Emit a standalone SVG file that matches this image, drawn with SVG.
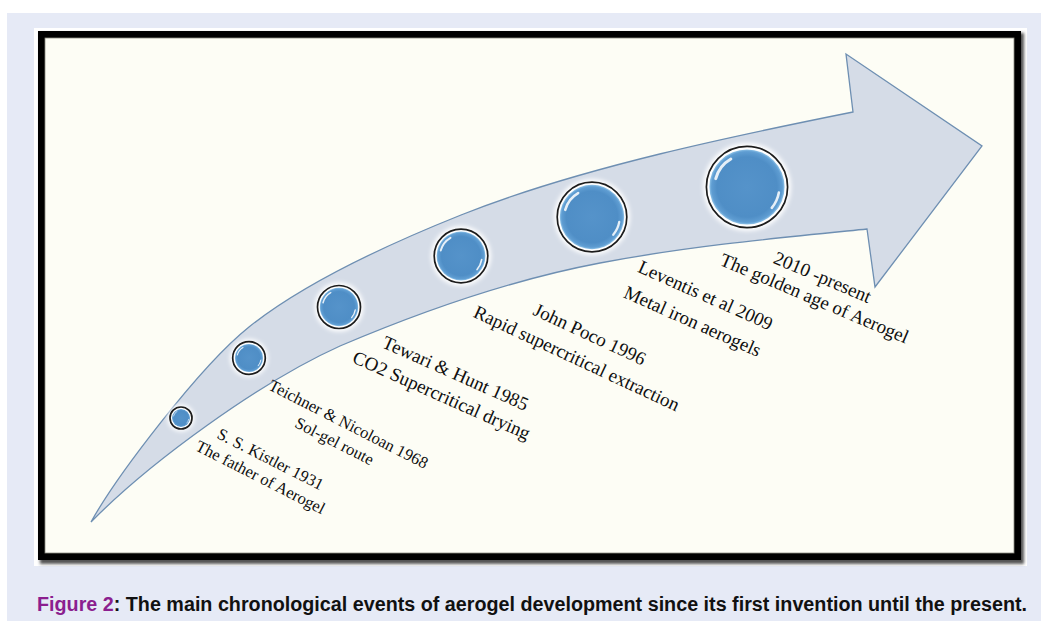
<svg xmlns="http://www.w3.org/2000/svg" xmlns:xlink="http://www.w3.org/1999/xlink" width="1041" height="627" viewBox="0 0 1041 627">
  <style>
    .lbl { font-family: "Liberation Serif", "Times New Roman", serif; fill: #0f0f0f; text-anchor: middle; }
    .sm { font-size: 16.5px; }
    .lg { font-size: 19px; }
    .ring { fill: #ffffff; stroke: #1c1c1c; stroke-width: 1.7; }
    .core { fill: url(#blue); }
    .glow { fill: #ffffff; filter: url(#blur); }
    .cap { font-family: "Liberation Sans", Arial, sans-serif; font-weight: bold; font-size: 19.5px; fill: #111111; }
  </style>
  <defs>
    <radialGradient id="blue" cx="0.5" cy="0.5" r="0.5">
      <stop offset="0" stop-color="#5593CA"/>
      <stop offset="0.8" stop-color="#4F8EC6"/>
      <stop offset="0.94" stop-color="#5F9DD2"/>
      <stop offset="1" stop-color="#8FC3E8"/>
    </radialGradient>
    <filter id="blur" x="-30%" y="-30%" width="160%" height="160%">
      <feGaussianBlur stdDeviation="2"/>
    </filter>
    <filter id="shadow" x="-5%" y="-5%" width="110%" height="110%">
      <feGaussianBlur stdDeviation="1.5"/>
    </filter>
    <g id="gloss" fill="none" stroke="#ffffff" stroke-linecap="round" stroke-opacity="0.85">
      <path d="M-0.831,-0.223 A0.86,0.86 0 0 1 -0.43,-0.745" stroke-width="0.08"/>
      <path d="M0.847,0.149 A0.86,0.86 0 0 1 0.659,0.553" stroke-width="0.07"/>
    </g>
  </defs>

  <!-- background panels -->
  <rect x="0" y="0" width="1041" height="627" fill="#ffffff"/>
  <rect x="7" y="13" width="1034" height="608" fill="#E6EAF6"/>
  <rect x="34" y="28" width="993" height="538" fill="#ffffff"/>
  <rect x="40" y="33" width="984" height="531" fill="#555555" filter="url(#shadow)"/>
  <rect x="38" y="31" width="983" height="529" fill="#000000"/>
  <rect x="45" y="38" width="969" height="515" fill="#FDFDF5" stroke="#8a8a80" stroke-width="0.8"/>

  <!-- timeline arrow -->
  <g id="connectors">
    <path id="timeline-arrow" d="M91,522 C116,477 199,367 249,327 C309,279 401,239 461,215 C581,167 743,134 853,112 L846,54 L982,146 L875,287 L867,229 C777,238 690,246 600,263 C510,280 420,312 340,346 C260,382 150,462 91,522 Z" fill="#D5DCE7" stroke="#6E8FB2" stroke-width="1.3" stroke-linejoin="miter"/>
  </g>

  <!-- events -->
  <g id="event-1931">
    <circle class="glow" cx="181" cy="418" r="13.5"/>
    <circle class="ring" cx="181" cy="418" r="11"/>
    <circle class="core" cx="181" cy="418" r="9"/>
    <use xlink:href="#gloss" transform="translate(181,418) scale(9)"/>
    <text class="lbl sm" transform="translate(268,464) rotate(27)">S. S. Kistler 1931</text>
    <text class="lbl sm" transform="translate(258,482) rotate(27)">The father of Aerogel</text>
  </g>

  <g id="event-1968">
    <circle class="glow" cx="249" cy="358" r="19"/>
    <circle class="ring" cx="249" cy="358" r="16.3"/>
    <circle class="core" cx="249" cy="358" r="14"/>
    <use xlink:href="#gloss" transform="translate(249,358) scale(14)"/>
    <text class="lbl sm" transform="translate(346,429) rotate(27)">Teichner &amp; Nicoloan 1968</text>
    <text class="lbl sm" transform="translate(332,446) rotate(27)">Sol-gel route</text>
  </g>

  <g id="event-1985">
    <circle class="glow" cx="339" cy="307" r="24.5"/>
    <circle class="ring" cx="339" cy="307" r="21.5"/>
    <circle class="core" cx="339" cy="307" r="19.2"/>
    <use xlink:href="#gloss" transform="translate(339,307) scale(19.2)"/>
    <text class="lbl lg" transform="translate(453,379) rotate(24)">Tewari &amp; Hunt 1985</text>
    <text class="lbl lg" transform="translate(439,401) rotate(24)">CO2 Supercritical drying</text>
  </g>

  <g id="event-1996">
    <circle class="glow" cx="461" cy="256" r="30"/>
    <circle class="ring" cx="461" cy="256" r="26.8"/>
    <circle class="core" cx="461" cy="256" r="24.4"/>
    <use xlink:href="#gloss" transform="translate(461,256) scale(24.4)"/>
    <text class="lbl lg" transform="translate(587,340) rotate(25)">John Poco 1996</text>
    <text class="lbl lg" transform="translate(574,364) rotate(25)">Rapid supercritical extraction</text>
  </g>

  <g id="event-2009">
    <circle class="glow" cx="592" cy="217" r="38"/>
    <circle class="ring" cx="592" cy="217" r="34.8"/>
    <circle class="core" cx="592" cy="217" r="32.2"/>
    <use xlink:href="#gloss" transform="translate(592,217) scale(32.2)"/>
    <text class="lbl lg" transform="translate(703,301) rotate(24)">Leventis et al 2009</text>
    <text class="lbl lg" transform="translate(690,327) rotate(24)">Metal iron aerogels</text>
  </g>

  <g id="event-2010">
    <circle class="glow" cx="747" cy="187" r="44"/>
    <circle class="ring" cx="747" cy="187" r="40.6" stroke-width="2"/>
    <circle class="core" cx="747" cy="187" r="37.6"/>
    <use xlink:href="#gloss" transform="translate(747,187) scale(37.6)"/>
    <text class="lbl lg" transform="translate(820,283) rotate(23)">2010 -present</text>
    <text class="lbl lg" transform="translate(812,304) rotate(23)">The golden age of Aerogel</text>
  </g>

  <!-- caption -->
  <g id="caption">
    <text class="cap" x="37" y="611" textLength="990" lengthAdjust="spacingAndGlyphs"><tspan fill="#8B1E8F">Figure 2</tspan>: The main chronological events of aerogel development since its first invention until the present.</text>
  </g>
</svg>
